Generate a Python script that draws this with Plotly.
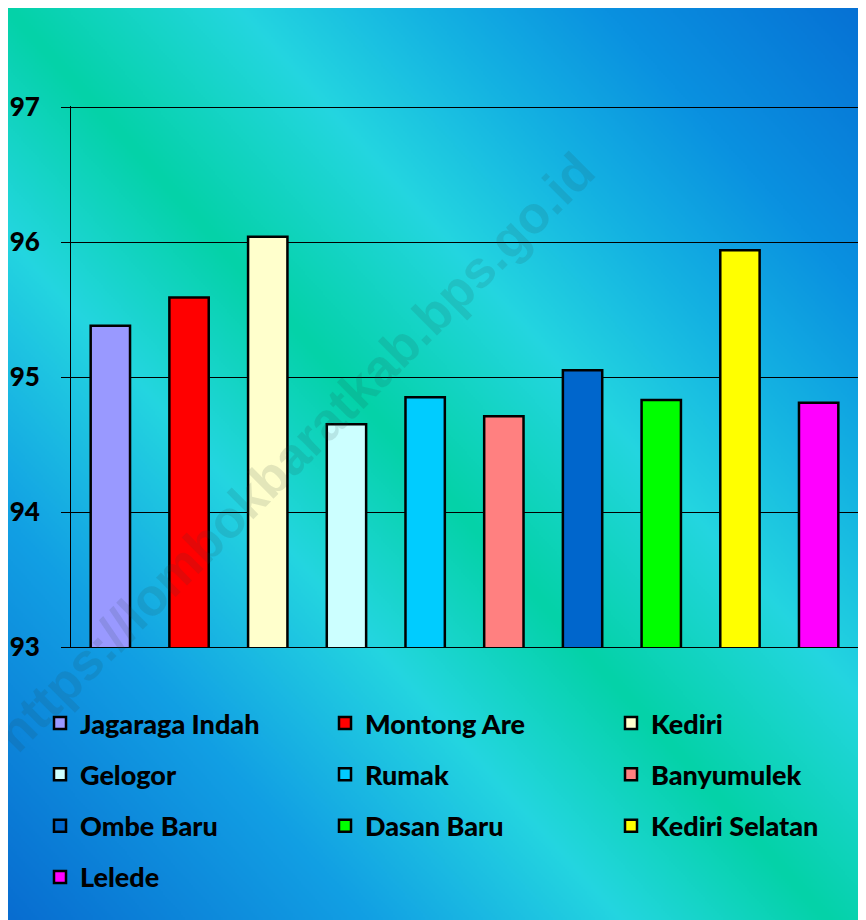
import base64, struct, zlib
import numpy as np
import plotly.graph_objects as go

# ---------------- data ----------------
categories = ["Jagaraga Indah", "Montong Are", "Kediri", "Gelogor", "Rumak",
              "Banyumulek", "Ombe Baru", "Dasan Baru", "Kediri Selatan", "Lelede"]
values = [95.38, 95.59, 96.04, 94.65, 94.85, 94.71, 95.05, 94.83, 95.94, 94.81]
bar_colors = ["#9999ff", "#ff0000", "#ffffcc", "#ccffff", "#00ccff",
              "#ff8080", "#0066cc", "#00ff00", "#ffff00", "#ff00ff"]
y_ticks = [93, 94, 95, 96, 97]

# page offset (browser body margin) -> figure is drawn 8px in from the top-left
OFF = 8
W, H = 866 - OFF, 920 - OFF

# ---------------- gradient background (png) ----------------
def make_gradient_png(w, h):
    xs = np.linspace(OFF, 866, w)
    ys = np.linspace(OFF, 920, h)
    X, Y = np.meshgrid(xs, ys)
    d = X - 0.9 * Y
    stops_d = [-828, -460, -205, 0, 230, 420, 600, 866]
    stops_c = np.array([(8, 108, 208), (18, 160, 228), (36, 214, 224), (4, 210, 168),
                        (36, 214, 224), (20, 178, 226), (10, 145, 224), (6, 112, 212)], float)
    img = np.zeros((h, w, 3), np.uint8)
    for k in range(3):
        img[..., k] = np.clip(np.interp(d, stops_d, stops_c[:, k]), 0, 255).astype(np.uint8)
    raw = b"".join(b"\x00" + img[r].tobytes() for r in range(h))
    def chunk(t, data):
        c = struct.pack(">I", len(data)) + t + data
        return c + struct.pack(">I", zlib.crc32(t + data) & 0xffffffff)
    png = b"\x89PNG\r\n\x1a\n" + chunk(b"IHDR", struct.pack(">IIBBBBB", w, h, 8, 2, 0, 0, 0)) \
        + chunk(b"IDAT", zlib.compress(raw, 9)) + chunk(b"IEND", b"")
    return "data:image/png;base64," + base64.b64encode(png).decode()

bg = make_gradient_png(429, 456)

# legend columns (row-major order like the reference)
col_of = [0, 1, 2, 0, 1, 2, 0, 1, 2, 0]
legend_names = ["legend", "legend2", "legend3"]

fig = go.Figure()
for i, (cat, val, col) in enumerate(zip(categories, values, bar_colors)):
    fig.add_trace(go.Bar(
        x=[cat], y=[val], name=cat, width=0.5, legendgroup=cat,
        marker=dict(color=col, line=dict(color="black", width=2.5)),
        legend=legend_names[col_of[i]],
    ))

font_bold = dict(family="Lato", size=27, color="black", weight=900)
col_x = [80, 365, 651]  # text start (reference px)
legends = {}
for j, ln in enumerate(legend_names):
    legends[ln] = dict(
        orientation="v", x=(col_x[j] - OFF - 40) / W, xanchor="left",
        y=1 - (699 - OFF) / H, yanchor="top",
        font=font_bold, bgcolor="rgba(0,0,0,0)", traceorder="grouped",
        tracegroupgap=13.2,
    )

fig.update_layout(
    width=W, height=H,
    margin=dict(l=0, r=0, t=0, b=0, autoexpand=False),
    paper_bgcolor="white", plot_bgcolor="rgba(0,0,0,0)",
    barmode="overlay", showlegend=True,
    xaxis=dict(domain=[(71 - OFF) / W, (858 - OFF) / W], showticklabels=False, ticks="",
               showline=True, linecolor="black", linewidth=1, showgrid=False,
               categoryorder="array", categoryarray=categories, fixedrange=True),
    yaxis=dict(domain=[1 - (647 - OFF) / H, 1 - (106 - OFF) / H], range=[93, 97.008],
               tickvals=y_ticks,
               showline=True, linecolor="black", linewidth=1,
               showgrid=True, gridcolor="black", gridwidth=1,
               ticks="outside", ticklen=9, tickcolor="black", tickwidth=1,
               ticklabelstandoff=16,
               tickfont=dict(family="Lato", size=26, color="black", weight=900)),
    images=[dict(source=bg, xref="paper", yref="paper", x=0, y=1,
                 sizex=1, sizey=1, xanchor="left", yanchor="top",
                 sizing="stretch", layer="below")],
    annotations=[dict(text="https://lombokbaratkab.bps.go.id", xref="paper", yref="paper",
                      x=(295 - OFF) / W, y=1 - (452 - OFF) / H, showarrow=False, textangle=-45,
                      font=dict(family="Liberation Sans", size=52, weight="bold",
                                color="rgba(40,60,60,0.13)"))],
    **legends,
)

fig.write_html("out.html")
